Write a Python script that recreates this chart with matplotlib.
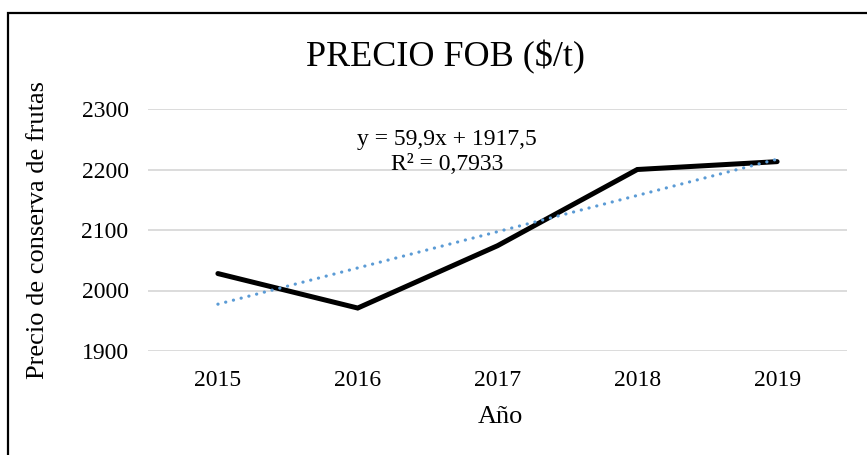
import matplotlib
matplotlib.use("Agg")
import matplotlib.pyplot as plt
import numpy as np
from matplotlib.patches import Rectangle

years = ["2015", "2016", "2017", "2018", "2019"]
prices = [2028, 1971, 2074, 2200, 2213]
slope = 59.9
intercept = 1917.5
r2_text = "R² = 0,7933"
eq_text = "y = 59,9x + 1917,5"
yticks = [1900, 2000, 2100, 2200, 2300]

plt.rcParams['font.family'] = ['Liberation Serif', 'DejaVu Serif']

W, H = 867, 455
fig = plt.figure(figsize=(W/100, H/100), dpi=100)
L, R, T, B = 148, 847, 109, 351
ax = fig.add_axes([L/W, 1-B/H, (R-L)/W, (B-T)/H])

x = np.arange(len(years))
ax.plot(x, prices, color='black', lw=3.6, solid_joinstyle='miter', solid_capstyle='round', zorder=3)
xt = np.array([0, len(years)-1])
ax.plot(xt, intercept + slope*(xt+1), color='#5B9BD5', lw=2.3, linestyle=(0, (0.05, 2.45)),
        dash_capstyle='round', zorder=4)

ax.set_xlim(-0.5, len(years)-0.5)
ax.set_ylim(1900, 2300)
ax.set_yticks(yticks)
ax.set_xticks(x)
ax.set_xticklabels(years)
ax.tick_params(length=0, labelsize=17, colors='black')
ax.tick_params(axis='y', pad=14)
ax.tick_params(axis='x', pad=14)
ax.grid(axis='y', color='#D9D9D9', lw=1.3)
ax.set_axisbelow(True)
for s in ax.spines.values():
    s.set_visible(False)

xl = ax.set_xlabel("Año", fontsize=19)
xl.set_va('center')
ax.xaxis.set_label_coords((500-L)/(R-L), (B-417)/(B-T))
yl = ax.set_ylabel("Precio de conserva de frutas", fontsize=19)
yl.set_va('center')
ax.yaxis.set_label_coords((38-L)/(R-L), 0.5 - (230-(T+B)/2)/(B-T))

ax.text(1.64, 2300 - (139-T)/(B-T)*400, eq_text, ha='center', va='center', fontsize=17)
ax.text(1.64, 2300 - (164-T)/(B-T)*400, r2_text, ha='center', va='center', fontsize=17)

fig.text(446/W, 1-57/H, "PRECIO FOB ($/t)", ha='center', va='center', fontsize=26)

fig.patches.append(Rectangle((8/W, -0.1), 1.2, 1-13/H+0.1, transform=fig.transFigure,
                             fill=False, edgecolor='black', lw=1.6))

fig.savefig("out.png", dpi=100)
